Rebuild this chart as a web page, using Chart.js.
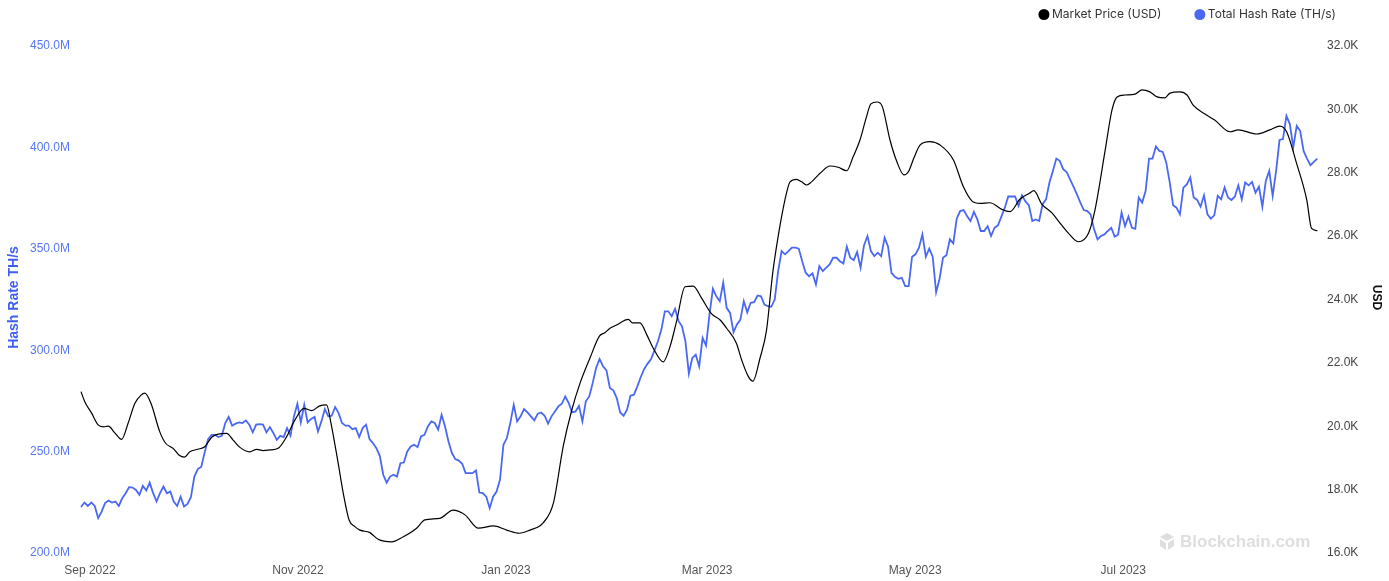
<!DOCTYPE html>
<html lang="en">
<head>
<meta charset="UTF-8">
<title>Market Price vs Total Hash Rate</title>
<script src="https://cdn.jsdelivr.net/npm/chart.js@4.4.1/dist/chart.umd.min.js"></script>
<style>
  html, body { margin: 0; padding: 0; background: #fff; }
  #wrap { position: relative; width: 1389px; height: 581px; }
</style>
</head>
<body>
<div id="wrap"><canvas id="chart"></canvas></div>
<script>
// x axis counts days from 1 Sep 2022
const monthTickDays = [0, 61, 122, 181, 242, 303];
const monthTickLabels = ['Sep 2022', 'Nov 2022', 'Jan 2023', 'Mar 2023', 'May 2023', 'Jul 2023'];

// Total hash rate, one value a day (million TH/s), first day is 29 Aug 2022
const hashStartDay = -2.6;
const hashEndDay = 359.9;
const hashRate = [
  221.7, 223.9, 222.2, 223.9, 222.2, 216.2, 219.4, 223.6, 224.9, 223.9,
  224.4, 222.2, 226.0, 228.5, 231.5, 231.3, 230.1, 227.7, 232.1, 229.8,
  233.7, 228.5, 224.4, 228.5, 231.8, 228.5, 229.3, 224.4, 222.2, 226.8,
  221.9, 223.2, 226.5, 236.7, 240.4, 241.4, 248.6, 255.2, 257.3, 257.3,
  256.2, 256.8, 263.1, 266.1, 261.8, 262.8, 263.4, 263.1, 264.4, 262.3,
  258.5, 262.3, 262.6, 262.3, 258.5, 261.1, 258.2, 254.8, 256.8, 256.2,
  260.6, 256.8, 266.4, 272.6, 263.4, 272.1, 263.4, 265.1, 266.1, 258.9,
  263.9, 270.0, 266.4, 266.7, 271.0, 268.0, 263.1, 261.8, 261.8, 260.1,
  260.6, 256.2, 260.6, 262.3, 255.2, 253.2, 250.7, 246.9, 237.6, 233.7,
  236.7, 237.6, 236.7, 243.3, 243.6, 249.1, 251.5, 252.4, 251.2, 256.5,
  257.3, 261.4, 263.9, 263.1, 259.8, 267.2, 261.4, 254.0, 248.3, 245.3,
  244.6, 243.0, 238.4, 238.4, 238.4, 239.7, 228.8, 228.5, 226.8, 221.1,
  226.8, 229.3, 235.1, 252.4, 255.7, 263.1, 272.1, 263.9, 266.4, 270.0,
  268.3, 266.4, 264.4, 267.7, 268.3, 266.7, 262.8, 266.4, 268.8, 271.3,
  272.6, 276.2, 273.0, 268.3, 268.8, 271.6, 263.9, 273.8, 276.2, 282.9,
  290.3, 294.7, 291.1, 289.1, 280.4, 279.2, 275.4, 268.3, 266.7, 269.7,
  276.6, 277.1, 281.2, 285.8, 289.8, 292.4, 294.7, 299.0, 303.4, 309.2,
  318.2, 318.2, 315.8, 319.4, 313.3, 310.8, 303.4, 287.5, 295.2, 296.8,
  291.1, 305.1, 301.3, 316.6, 329.3, 325.6, 323.2, 332.3, 319.9, 317.4,
  307.9, 311.7, 314.1, 323.2, 317.7, 322.4, 322.7, 326.0, 325.6, 321.5,
  320.7, 320.4, 324.0, 338.0, 347.9, 346.3, 347.9, 349.6, 349.6, 349.1,
  342.9, 337.2, 335.5, 336.9, 331.4, 340.5, 338.0, 339.7, 341.3, 344.6,
  344.6, 342.9, 341.8, 350.1, 344.6, 343.4, 347.4, 339.7, 350.7, 355.3,
  347.9, 345.4, 347.1, 345.4, 354.5, 350.1, 337.2, 335.2, 334.2, 334.7,
  330.6, 330.6, 345.1, 346.3, 349.6, 356.1, 345.1, 349.1, 345.1, 327.6,
  334.2, 344.6, 345.8, 353.7, 351.7, 363.9, 367.6, 368.1, 365.2, 362.7,
  367.2, 363.5, 357.8, 357.8, 360.2, 355.3, 359.4, 360.6, 364.9, 369.3,
  374.8, 374.8, 374.8, 370.1, 375.4, 372.4, 370.5, 362.7, 363.5, 362.7,
  371.0, 373.4, 381.7, 387.4, 393.5, 392.4, 388.3, 386.9, 383.3, 379.7,
  375.9, 371.8, 368.1, 367.6, 366.0, 358.6, 353.7, 355.3, 356.1, 357.8,
  359.4, 355.0, 356.1, 366.9, 360.2, 364.9, 359.4, 358.9, 374.3, 371.8,
  377.5, 393.5, 393.5, 399.5, 397.3, 396.8, 391.6, 382.0, 370.5, 369.3,
  366.0, 379.2, 380.8, 384.2, 374.3, 373.1, 369.8, 375.4, 366.0, 363.9,
  365.5, 375.1, 373.4, 379.2, 374.3, 373.1, 374.8, 380.3, 373.4, 381.7,
  380.3, 382.0, 376.7, 379.7, 369.8, 382.5, 387.4, 375.1, 387.4, 402.7,
  403.1, 414.6, 410.5, 399.0, 409.6, 407.2, 397.3, 393.5, 390.2, 391.9,
  393.5
];

// Market price (thousand USD), smoothed line read at these days
const priceDays = [
  -2.6, -1.5, 0.5, 2.4, 3.9, 5.4, 7.3, 9.3, 11.2, 13.2,
  15.0, 16.1, 17.9, 20.5, 22.2, 24.4, 26.1, 27.7, 29.3, 31.6,
  33.7, 35.7, 37.6, 40.1, 42.0, 44.0, 46.9, 48.9, 50.8, 52.8,
  55.2, 57.7, 60.1, 62.8, 65.0, 67.4, 69.4, 70.7, 72.8, 74.3,
  76.0, 77.7, 79.2, 82.1, 84.5, 88.5, 91.9, 95.8, 98.2, 102.6,
  106.5, 110.0, 113.9, 118.3, 122.2, 125.9, 129.0, 132.9, 135.9, 138.8,
  141.3, 143.7, 146.6, 149.4, 151.0, 152.5, 154.4, 157.9, 159.1, 161.3,
  163.3, 165.2, 168.1, 170.1, 172.0, 174.5, 176.9, 179.4, 182.3, 184.8,
  186.7, 189.6, 191.1, 193.0, 194.4, 196.5, 198.4, 200.2, 201.8, 203.8,
  205.3, 207.2, 208.7, 210.2, 211.6, 214.1, 217.0, 219.4, 221.9, 223.8,
  225.8, 227.6, 229.0, 230.8, 232.3, 234.6, 236.6, 238.7, 240.0, 241.6,
  243.4, 246.3, 249.3, 253.2, 256.1, 258.6, 261.0, 263.9, 267.4, 269.8,
  272.7, 275.5, 276.8, 279.1, 282.0, 284.9, 286.9, 289.8, 292.8, 294.7,
  297.7, 299.7, 301.2, 303.5, 306.5, 308.5, 310.8, 312.9, 315.2, 316.7,
  319.6, 321.7, 323.5, 327.4, 329.8, 334.3, 336.7, 342.1, 346.0, 348.9,
  350.9, 353.8, 356.8, 358.2, 359.9
];
const priceValues = [
  21.03, 20.71, 20.35, 19.98, 19.92, 19.94, 19.73, 19.52, 20.03, 20.66,
  20.92, 20.98, 20.66, 19.76, 19.40, 19.24, 19.03, 18.96, 19.13, 19.21,
  19.29, 19.59, 19.69, 19.71, 19.50, 19.27, 19.13, 19.21, 19.17, 19.19,
  19.24, 19.61, 20.13, 20.50, 20.43, 20.58, 20.61, 20.03, 18.77, 17.82,
  16.98, 16.77, 16.66, 16.58, 16.37, 16.29, 16.45, 16.72, 16.98, 17.03,
  17.29, 17.14, 16.72, 16.79, 16.66, 16.56, 16.66, 16.89, 17.51, 19.31,
  20.45, 21.29, 22.08, 22.78, 22.89, 23.03, 23.13, 23.31, 23.20, 23.20,
  22.82, 22.40, 21.97, 22.45, 23.24, 24.34, 24.36, 23.97, 23.48, 23.29,
  23.03, 22.55, 22.03, 21.52, 21.36, 22.09, 22.97, 24.76, 25.92, 27.08,
  27.65, 27.73, 27.65, 27.55, 27.65, 27.92, 28.15, 28.11, 28.00, 28.44,
  28.97, 29.66, 30.11, 30.17, 30.04, 28.97, 28.29, 27.87, 27.97, 28.40,
  28.81, 28.92, 28.81, 28.34, 27.50, 27.05, 26.97, 26.99, 26.78, 26.71,
  27.10, 27.29, 27.37, 26.95, 26.68, 26.29, 26.03, 25.76, 26.03, 26.76,
  28.65, 29.92, 30.33, 30.39, 30.42, 30.55, 30.49, 30.33, 30.30, 30.45,
  30.49, 30.39, 30.07, 29.76, 29.60, 29.23, 29.29, 29.16, 29.29, 29.41,
  29.23, 28.24, 27.08, 26.18, 26.11
];

const BLUE = '#4a68f3';
const FONT = '"Liberation Sans", Arial, sans-serif';

const hashStep = (hashEndDay - hashStartDay) / (hashRate.length - 1);

// legend drawn top right, dots + labels
const topLegend = {
    id: 'topLegend',
    afterDraw(chart) {
        const ctx = chart.ctx;
        const items = chart.data.datasets.map(d => ({ text: d.label, color: d.borderColor }));
        ctx.save();
        ctx.font = '12px Inter, "Noto Sans", sans-serif';
        ctx.textBaseline = 'middle';
        let x = 1336;
        const y = 14.5;
        for (let i = items.length - 1; i >= 0; i--) {
            const w = ctx.measureText(items[i].text).width;
            const textX = x - w;
            ctx.fillStyle = '#333';
            ctx.fillText(items[i].text, textX, y);
            ctx.beginPath();
            ctx.arc(textX - 8, y, 5.5, 0, Math.PI * 2);
            ctx.fillStyle = items[i].color;
            ctx.fill();
            x = textX - 8 - 5.5 - 33;
        }
        ctx.restore();
    }
};

// faint "Blockchain.com" mark, bottom right
const watermark = {
    id: 'watermark',
    beforeDatasetsDraw(chart) {
        const ctx = chart.ctx;
        ctx.save();
        ctx.fillStyle = '#dedede';
        const cx = 1167, cy = 541;
        ctx.beginPath();
        ctx.moveTo(cx, cy - 8);
        ctx.lineTo(cx + 7, cy - 4);
        ctx.lineTo(cx, cy);
        ctx.lineTo(cx - 7, cy - 4);
        ctx.closePath();
        ctx.fill();
        ctx.beginPath();
        ctx.moveTo(cx - 7, cy - 2);
        ctx.lineTo(cx - 1, cy + 2);
        ctx.lineTo(cx - 1, cy + 9);
        ctx.lineTo(cx - 7, cy + 5);
        ctx.closePath();
        ctx.fill();
        ctx.beginPath();
        ctx.moveTo(cx + 7, cy - 2);
        ctx.lineTo(cx + 1, cy + 2);
        ctx.lineTo(cx + 1, cy + 9);
        ctx.lineTo(cx + 7, cy + 5);
        ctx.closePath();
        ctx.fill();
        ctx.font = 'bold 17px ' + FONT;
        ctx.textBaseline = 'middle';
        ctx.fillText('Blockchain.com', 1180, cy + 1);
        ctx.restore();
    }
};

const ctx = document.getElementById('chart').getContext('2d');
new Chart(ctx, {
    type: 'line',
    data: {
        datasets: [
            {
                label: 'Market Price (USD)',
                data: priceValues.map((v, i) => ({ x: priceDays[i], y: v })),
                yAxisID: 'yPrice',
                borderColor: '#000000',
                backgroundColor: '#000000',
                borderWidth: 1.2,
                pointRadius: 0,
                cubicInterpolationMode: 'monotone'
            },
            {
                label: 'Total Hash Rate (TH/s)',
                data: hashRate.map((v, i) => ({ x: hashStartDay + i * hashStep, y: v })),
                yAxisID: 'yHash',
                borderColor: BLUE,
                backgroundColor: BLUE,
                borderWidth: 1.8,
                pointRadius: 0,
                tension: 0
            }
        ]
    },
    options: {
        responsive: true,
        maintainAspectRatio: false,
        animation: false,
        layout: { padding: { top: 44, left: 0, right: 0, bottom: 0 } },
        plugins: {
            legend: { display: false },
            tooltip: { enabled: false }
        },
        scales: {
            x: {
                type: 'linear',
                min: -2.9,
                max: 360.1,
                grid: { display: false, drawTicks: false },
                border: { display: false },
                afterBuildTicks: s => { s.ticks = monthTickDays.map(v => ({ value: v })); },
                afterFit: s => { s.height = 30; },
                ticks: {
                    autoSkip: false,
                    maxRotation: 0,
                    padding: 12,
                    color: '#555',
                    font: { family: FONT, size: 12 },
                    callback: (v, i) => monthTickLabels[i]
                }
            },
            yHash: {
                position: 'left',
                min: 200,
                max: 450,
                grid: { display: false, drawTicks: false },
                border: { display: false },
                afterFit: s => { s.width = 80; },
                ticks: {
                    stepSize: 50,
                    padding: 10,
                    labelOffset: 2,
                    color: '#5776f6',
                    font: { family: FONT, size: 12 },
                    callback: v => v.toFixed(1) + 'M'
                },
                title: {
                    display: true,
                    text: 'Hash Rate TH/s',
                    color: '#3f5ff2',
                    padding: { top: 6, bottom: 6 },
                    font: { family: FONT, size: 14, weight: 'bold' }
                }
            },
            yPrice: {
                position: 'right',
                min: 16,
                max: 32,
                grid: { display: false, drawTicks: false },
                border: { display: false },
                afterFit: s => { s.width = 71; },
                ticks: {
                    stepSize: 2,
                    padding: 9,
                    labelOffset: 2,
                    color: '#444',
                    font: { family: FONT, size: 12 },
                    callback: v => v.toFixed(1) + 'K'
                },
                title: {
                    display: true,
                    text: 'USD',
                    color: '#111',
                    padding: { top: 5, bottom: 5 },
                    font: { family: FONT, size: 12, weight: 'bold' }
                }
            }
        }
    },
    plugins: [watermark, topLegend]
});
</script>
</body>
</html>
